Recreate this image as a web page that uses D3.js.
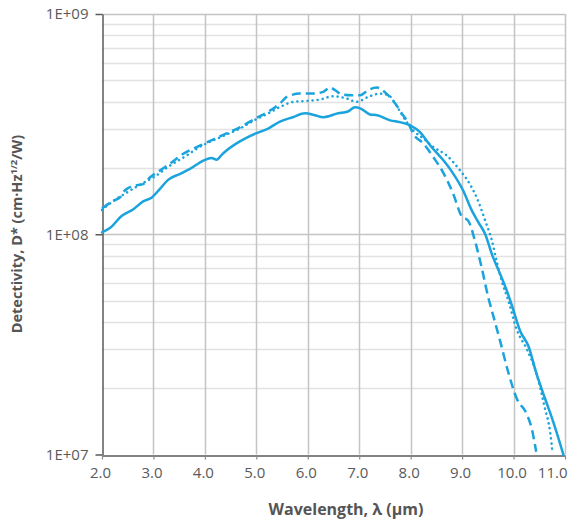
<!DOCTYPE html>
<html>
<head>
<meta charset="utf-8">
<script src="https://cdn.jsdelivr.net/npm/d3@7"></script>
<style>
  body { margin: 0; background: #fff; }
  text { font-family: "Open Sans", sans-serif; }
</style>
</head>
<body>
<svg></svg>
<script>
const width = 577;
const height = 524;

// wavelength (um)
const xTicks = [2, 3, 4, 5, 6, 7, 8, 9, 10, 11];
const yTickLabels = ["1E+07", "1E+08", "1E+09"];

// D* values in units of 1e8 cm·Hz^1/2/W
const solidWl = [2.00, 2.16, 2.38, 2.61, 2.80, 2.97, 3.13, 3.29, 3.52, 3.71, 3.97, 4.13, 4.23, 4.33, 4.42,
  4.68, 4.99, 5.23, 5.46, 5.71, 5.95, 6.14, 6.30, 6.59, 6.78, 6.92, 7.02, 7.21, 7.35, 7.60, 7.79, 7.99,
  8.18, 8.38, 8.64, 8.83, 9.02, 9.19, 9.32, 9.45, 9.58, 9.74, 9.87, 9.96, 10.13, 10.29, 10.45, 10.61, 10.77, 10.97];
const solidD = [1.02, 1.07, 1.21, 1.30, 1.41, 1.47, 1.61, 1.77, 1.88, 1.98, 2.16, 2.22, 2.18, 2.30, 2.40,
  2.64, 2.87, 3.02, 3.25, 3.40, 3.54, 3.47, 3.40, 3.54, 3.61, 3.77, 3.73, 3.50, 3.47, 3.29, 3.23, 3.12,
  2.91, 2.53, 2.16, 1.88, 1.58, 1.28, 1.13, 1.00, 0.81, 0.659, 0.553, 0.481, 0.363, 0.310, 0.231, 0.180, 0.141, 0.0997];

const dashedWl = [2.00, 2.22, 2.35, 2.41, 2.61, 2.80, 2.93, 3.13, 3.32, 3.58, 3.91, 4.29, 4.68, 4.99, 5.27,
  5.46, 5.59, 5.85, 6.10, 6.30, 6.43, 6.53, 6.66, 6.85, 7.02, 7.17, 7.34, 7.53, 7.70, 7.83, 7.96, 8.05,
  8.25, 8.44, 8.63, 8.83, 8.99, 9.12, 9.25, 9.38, 9.51, 9.58, 9.74, 9.90, 10.06, 10.26, 10.35, 10.44];
const dashedD = [1.31, 1.42, 1.47, 1.55, 1.66, 1.69, 1.81, 1.95, 2.09, 2.32, 2.53, 2.78, 3.06, 3.36, 3.65,
  3.92, 4.20, 4.35, 4.35, 4.43, 4.64, 4.51, 4.32, 4.28, 4.28, 4.51, 4.64, 4.35, 3.92, 3.53, 3.18, 2.86,
  2.58, 2.24, 1.91, 1.52, 1.21, 1.15, 0.934, 0.706, 0.515, 0.448, 0.327, 0.235, 0.180, 0.152, 0.132, 0.103];

const dottedWl = [2.00, 2.21, 2.45, 2.74, 3.03, 3.32, 3.61, 3.91, 4.29, 4.68, 4.99, 5.27, 5.46, 5.72, 5.98,
  6.24, 6.49, 6.76, 6.95, 7.17, 7.40, 7.57, 7.70, 7.86, 8.05, 8.25, 8.44, 8.70, 8.96, 9.15, 9.32, 9.45,
  9.58, 9.67, 9.77, 9.90, 10.06, 10.26, 10.45, 10.61, 10.71, 10.76];
const dottedD = [1.29, 1.41, 1.53, 1.68, 1.83, 2.05, 2.25, 2.50, 2.75, 3.02, 3.32, 3.58, 3.78, 3.99, 4.03,
  4.09, 4.23, 4.13, 3.99, 4.20, 4.35, 4.28, 3.92, 3.40, 2.96, 2.72, 2.49, 2.28, 1.95, 1.69, 1.40, 1.15,
  0.934, 0.757, 0.614, 0.498, 0.370, 0.300, 0.231, 0.162, 0.127, 0.101];

const color = "#1aa3dc";
const margin = {left: 102, right: 12, top: 14, bottom: 70};

const svg = d3.select("svg")
  .attr("width", width)
  .attr("height", height);

const x = d3.scaleLinear().domain([2, 11]).range([margin.left, width - margin.right]);
const y = d3.scaleLog().domain([1e7, 1e9]).range([height - margin.bottom + 0.5, margin.top]);

// horizontal grid: minor decades
const minor = [];
[1e7, 1e8].forEach(function(dec) {
  for (let k = 2; k <= 9; k++) minor.push(k * dec);
});

const grid = svg.append("g");
grid.selectAll(".hminor")
  .data(minor)
  .enter()
  .append("line")
  .attr("x1", x(2)).attr("x2", x(11))
  .attr("y1", d => Math.round(y(d)) + 0.5)
  .attr("y2", d => Math.round(y(d)) + 0.5)
  .attr("stroke", "#e2e2e2")
  .attr("stroke-width", 1.5);

grid.selectAll(".hmajor")
  .data([1e8, 1e9])
  .enter()
  .append("line")
  .attr("x1", x(2)).attr("x2", x(11))
  .attr("y1", d => Math.round(y(d)) + 0.5)
  .attr("y2", d => Math.round(y(d)) + 0.5)
  .attr("stroke", "#c4c4c4")
  .attr("stroke-width", 1.5);

grid.selectAll(".vgrid")
  .data(xTicks.slice(1))
  .enter()
  .append("line")
  .attr("x1", d => Math.round(x(d)) + 0.5)
  .attr("x2", d => Math.round(x(d)) + 0.5)
  .attr("y1", y(1e9)).attr("y2", y(1e7))
  .attr("stroke", "#c4c4c4")
  .attr("stroke-width", 1.5);

// axes
const xAxis = d3.axisBottom(x)
  .tickValues(xTicks)
  .tickFormat(d3.format(".1f"))
  .tickSizeInner(4)
  .tickSizeOuter(0);

const gx = svg.append("g")
  .attr("transform", "translate(0," + (Math.round(y(1e7)) + 0.5) + ")")
  .call(xAxis);
gx.select(".domain").attr("stroke", "#5a5a5a").attr("stroke-width", 1.5);
gx.selectAll(".tick line").attr("stroke", "#8a8a8a").attr("stroke-width", 1.2);
gx.selectAll(".tick text")
  .attr("y", 12)
  .attr("x", -2)
  .attr("fill", "#5a5a5a")
  .style("font-size", "15px");
// last label kept inside the frame
gx.selectAll(".tick text")
  .filter(d => d === 11)
  .attr("text-anchor", "end")
  .attr("x", 2);

const yAxis = d3.axisLeft(y)
  .tickValues([1e7, 1e8, 1e9])
  .tickFormat((d, i) => yTickLabels[i])
  .tickSizeInner(7)
  .tickSizeOuter(0);

const gy = svg.append("g")
  .attr("transform", "translate(" + (Math.round(x(2)) + 0.5) + ",0)")
  .call(yAxis);
gy.select(".domain").attr("stroke", "#5a5a5a").attr("stroke-width", 1.5);
gy.selectAll(".tick line").attr("stroke", "#5a5a5a").attr("stroke-width", 1.5);
gy.selectAll(".tick text")
  .attr("x", -14)
  .attr("fill", "#5a5a5a")
  .style("font-size", "15px");

// series
const line = d3.line()
  .x(d => x(d[0]))
  .y(d => y(d[1] * 1e8))
  .curve(d3.curveMonotoneX);

function addSeries(wl, vals, dash, cap) {
  svg.append("path")
    .datum(d3.zip(wl, vals))
    .attr("fill", "none")
    .attr("stroke", color)
    .attr("stroke-width", 2.5)
    .attr("stroke-linecap", cap)
    .attr("stroke-dasharray", dash)
    .attr("d", line);
}

addSeries(dottedWl, dottedD, "0.1 5", "round");
addSeries(dashedWl, dashedD, "9 5", "butt");
addSeries(solidWl, solidD, null, "round");

// titles
svg.append("text")
  .attr("x", 346)
  .attr("y", 515)
  .attr("text-anchor", "middle")
  .attr("fill", "#555")
  .style("font-size", "16px")
  .style("font-weight", "bold")
  .text("Wavelength, λ (μm)");

const yt = svg.append("text")
  .attr("transform", "translate(22," + 234 + ") rotate(-90)")
  .attr("text-anchor", "middle")
  .attr("fill", "#555")
  .style("font-size", "14.5px")
  .style("font-weight", "bold");
yt.append("tspan").text("Detectivity, D* (cm·Hz");
yt.append("tspan").attr("dy", -5).style("font-size", "9.5px").text("1/2");
yt.append("tspan").attr("dy", 5).text("/W)");
</script>
</body>
</html>
